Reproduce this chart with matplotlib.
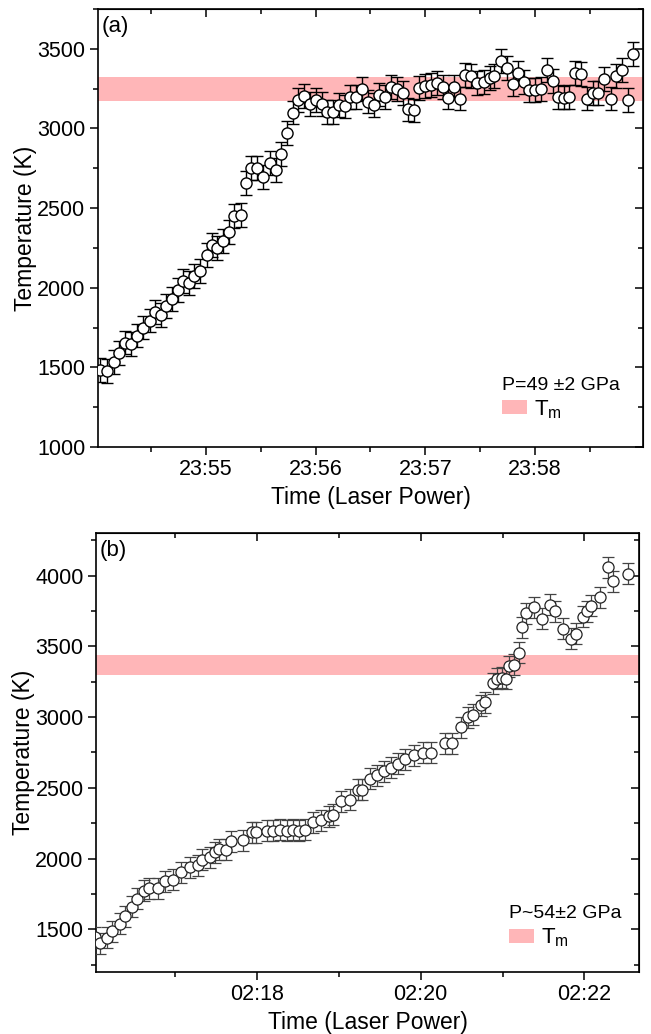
import numpy as np
import matplotlib
matplotlib.use("Agg")
import matplotlib.pyplot as plt
import matplotlib.dates as mdates
from matplotlib.ticker import MultipleLocator, AutoMinorLocator, NullFormatter
from matplotlib.patches import Patch

plt.rcParams['font.family'] = ['Liberation Sans', 'DejaVu Sans']
plt.rcParams['mathtext.fontset'] = 'custom'
plt.rcParams['mathtext.rm'] = 'Liberation Sans'
plt.rcParams['mathtext.it'] = 'Liberation Sans:italic'

# ---------------- Panel (a) data ----------------
start_a = '2000-01-01T23:54:00'
sec_a = [2.2, 6.1, 9.9, 12.7, 16.0, 19.3, 22.1, 25.4, 29.2, 32.0, 35.3, 38.1, 41.4, 44.7,
         47.4, 50.7, 53.5, 56.8, 60.7, 63.4, 66.2, 69.5, 72.8, 75.6, 79.4, 82.2, 84.9, 88.2,
         91.5, 94.9, 98.2, 100.9, 104.2, 107.5, 110.3, 113.6, 116.9, 120.2, 123.5, 126.3,
         129.6, 132.9, 136.2, 139.0, 142.3, 145.6, 148.4, 151.7, 154.4, 157.7, 161.0, 164.3,
         167.6, 170.4, 173.7, 176.5, 179.8, 183.1, 186.4, 189.7, 192.5, 195.8, 199.1, 201.8,
         205.1, 208.5, 211.8, 215.1, 217.8, 221.2, 224.5, 227.8, 230.5, 233.8, 236.6, 239.9,
         243.2, 246.5, 249.8, 252.6, 255.9, 258.7, 262.0, 265.3, 268.6, 271.9, 274.6, 277.9,
         281.3, 284.0, 287.3, 290.6, 293.4]
temp_a = [1481, 1475, 1531, 1588, 1656, 1644, 1700, 1750, 1794, 1850, 1831, 1888, 1931, 1988,
          2044, 2031, 2075, 2106, 2206, 2269, 2250, 2294, 2350, 2450, 2456, 2656, 2750, 2750,
          2694, 2781, 2738, 2838, 2969, 3100, 3181, 3206, 3156, 3181, 3156, 3106,
          3106, 3150, 3138, 3200, 3200, 3250, 3169, 3150, 3213, 3200, 3263, 3250,
          3225, 3119, 3113, 3256, 3269, 3275, 3288, 3263, 3194, 3263, 3188, 3338,
          3331, 3288, 3294, 3319, 3331, 3425, 3381, 3281, 3350, 3294, 3244, 3244,
          3250, 3369, 3300, 3200, 3194, 3200, 3350, 3344, 3188, 3225, 3225, 3313,
          3188, 3331, 3369, 3181, 3469]
err_a = 75
tm_a = (3170, 3325)
label_a = 'P=49 \u00b12 GPa'

# ---------------- Panel (b) data ----------------
start_b = '2000-01-01T02:16:00'
sec_b = [1.5, 4.6, 10.3, 14.0, 19.7, 23.1, 28.3, 32.0, 37.4, 41.1, 47.2, 52.9, 58.3, 64.4,
         70.6, 76.8, 79.9, 85.4, 89.1, 92.3, 97.6, 101.3, 110.0, 116.1, 119.0, 127.2, 131.4,
         137.0, 141.9, 146.1, 150.6, 155.0, 160.9, 167.0, 172.7, 175.9, 181.8, 188.2, 194.1,
         197.3, 203.0, 208.1, 213.3, 218.4, 223.6, 228.8, 235.4, 241.5, 247.7, 257.6, 263.2,
         269.4, 274.8, 278.4, 283.9, 287.1, 293.2, 296.2, 299.4, 302.4, 304.8, 308.0, 311.7,
         314.2, 317.3, 322.7, 328.9, 335.1, 338.7, 344.1, 349.8, 353.5, 359.2, 362.1, 365.1,
         371.2, 376.9, 380.6, 392.1]
temp_b = [1444, 1403, 1441, 1486, 1542, 1594, 1662, 1717, 1775, 1792, 1792, 1839, 1851, 1905,
          1940, 1954, 1992, 2011, 2046, 2065, 2063, 2122, 2129, 2187, 2187, 2199, 2199,
          2204, 2199, 2204, 2199, 2204, 2258, 2270, 2300, 2312, 2406, 2416, 2487,
          2487, 2564, 2588, 2616, 2644, 2672, 2701, 2729, 2748, 2748, 2816, 2816,
          2929, 2999, 3018, 3082, 3105, 3239, 3270, 3278, 3270, 3359, 3371, 3454,
          3635, 3734, 3776, 3694, 3795, 3748, 3624, 3553, 3588, 3710, 3748, 3788,
          3847, 4059, 3958, 4012]
err_b = 75
tm_b = (3300, 3440)
label_b = 'P~54\u00b12 GPa'

band_color = '#ffb6b8'


def to_times(start, secs):
    base = np.datetime64(start)
    return base + (np.asarray(secs) * 1000).astype('timedelta64[ms]')


fig = plt.figure(figsize=(6.51, 10.34), dpi=100)
ax_a = fig.add_axes([0.1505, 0.5677, 0.8372, 0.4236])
ax_b = fig.add_axes([0.1475, 0.0600, 0.8341, 0.4245])


def style_axes(ax, major_x, minor_x, major_x2, minor_x2, ylim, panel):
    ax.set_ylim(*ylim)
    ax.yaxis.set_major_locator(MultipleLocator(500))
    ax.yaxis.set_minor_locator(AutoMinorLocator(2))
    ax.xaxis.set_major_locator(major_x)
    ax.xaxis.set_minor_locator(minor_x)
    ax.xaxis.set_major_formatter(mdates.DateFormatter('%H:%M'))
    ax.tick_params(which='both', direction='out', top=False, right=False,
                   width=1.1, labelsize=15.5, pad=3)
    ax.tick_params(which='major', length=6)
    ax.tick_params(which='minor', length=3.5)
    for s in ax.spines.values():
        s.set_linewidth(1.2)
    # mirrored ticks on top / right pointing inward
    secx = ax.secondary_xaxis('top', functions=(lambda v: v, lambda v: v))
    secx.xaxis.set_major_locator(major_x2)
    secx.xaxis.set_minor_locator(minor_x2)
    secy = ax.secondary_yaxis('right', functions=(lambda v: v, lambda v: v))
    secy.yaxis.set_major_locator(MultipleLocator(500))
    secy.yaxis.set_minor_locator(MultipleLocator(250))
    for sec in (secx, secy):
        sec.tick_params(which='both', direction='in', width=1.1)
        sec.tick_params(which='major', length=6)
        sec.tick_params(which='minor', length=3.5)
    secx.xaxis.set_major_formatter(NullFormatter())
    secx.xaxis.set_minor_formatter(NullFormatter())
    secy.yaxis.set_major_formatter(NullFormatter())
    secy.yaxis.set_minor_formatter(NullFormatter())
    ax.set_ylabel('Temperature (K)', fontsize=16.5, labelpad=0)
    ax.set_xlabel('Time (Laser Power)', fontsize=16.5, labelpad=4)
    ax.text(0.006, 0.985, panel, transform=ax.transAxes, ha='left', va='top', fontsize=16)


# ---------- Panel (a) ----------
t_a = to_times(start_a, sec_a)
ax_a.axhspan(tm_a[0], tm_a[1], color=band_color, lw=0, zorder=1)
ax_a.errorbar(t_a, temp_a, yerr=err_a, fmt='o', ms=8, mfc='white', mec='black', mew=1.0,
              ecolor='black', elinewidth=1.0, capsize=4, capthick=1.0, zorder=3)
ax_a.set_xlim(np.datetime64('2000-01-01T23:54:01'), np.datetime64('2000-01-01T23:58:59'))
style_axes(ax_a, mdates.MinuteLocator(), mdates.SecondLocator(bysecond=[30]),
           mdates.MinuteLocator(), mdates.SecondLocator(bysecond=[30]),
           (1000, 3750), '(a)')
ax_a.legend(handles=[Patch(facecolor=band_color, edgecolor='none', label='T$_\\mathrm{m}$')],
            title=label_a, loc='lower right', bbox_to_anchor=(0.965, 0.05),
            frameon=False, fontsize=16, title_fontsize=14, alignment='left',
            handlelength=1.15, handleheight=0.6, handletextpad=0.3, borderpad=0.2,
            borderaxespad=0.0, labelspacing=0.2)

# ---------- Panel (b) ----------
t_b = to_times(start_b, sec_b)
ax_b.axhspan(tm_b[0], tm_b[1], color=band_color, lw=0, zorder=1)
ax_b.errorbar(t_b, temp_b, yerr=err_b, fmt='o', ms=8, mfc='white', mec='#222222', mew=0.9,
              ecolor='#444444', elinewidth=0.9, capsize=4, capthick=0.9, zorder=3)
ax_b.set_xlim(np.datetime64('2000-01-01T02:16:02'), np.datetime64('2000-01-01T02:22:40'))
style_axes(ax_b, mdates.MinuteLocator(byminute=range(0, 60, 2)),
           mdates.MinuteLocator(byminute=range(1, 60, 2)),
           mdates.MinuteLocator(byminute=range(0, 60, 2)),
           mdates.MinuteLocator(byminute=range(1, 60, 2)), (1200, 4300), '(b)')
ax_b.legend(handles=[Patch(facecolor=band_color, edgecolor='none', label='T$_\\mathrm{m}$')],
            title=label_b, loc='lower right', bbox_to_anchor=(0.975, 0.042),
            frameon=False, fontsize=16, title_fontsize=14, alignment='left',
            handlelength=1.15, handleheight=0.6, handletextpad=0.3, borderpad=0.2,
            borderaxespad=0.0, labelspacing=0.2)

fig.savefig('out.png', dpi=100)
